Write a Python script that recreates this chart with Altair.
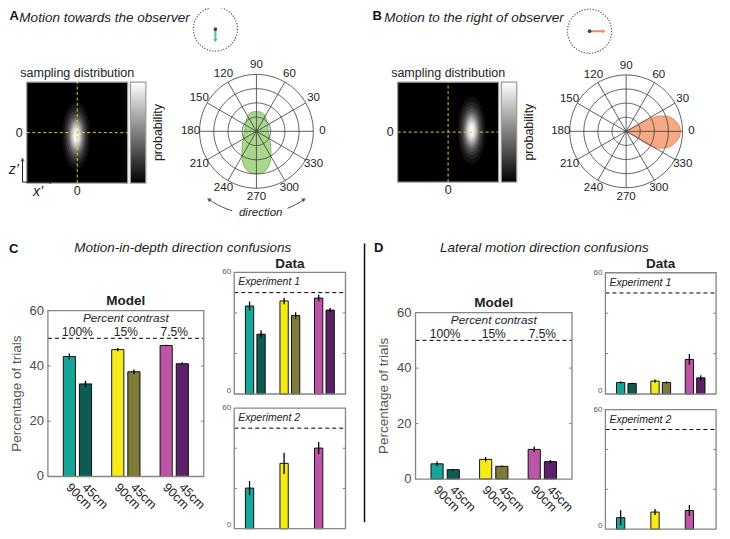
import altair as alt
import pandas as pd
import numpy as np

# ----------------------------- data -----------------------------
distances = ["90cm", "45cm", "90cm", "45cm", "90cm", "45cm"]
contrast_levels = ["100%", "15%", "7.5%"]
bar_slots = [1, 2, 4, 5, 7, 8]
contrast_slots = [1.5, 4.5, 7.5]
exp2_slots = [1, 4, 7]
bar_colors = ["#17a597", "#0e5b52", "#f6ea1d", "#7d7b37", "#bc55a5", "#5c2167"]
exp2_colors = ["#17a597", "#f6ea1d", "#bc55a5"]
chance_level = [50]

depth_model = [43.4, 33.5, 45.9, 37.9, 47.4, 40.8]
depth_model_err = [1.1, 1.1, 0.6, 0.8, 0.3, 0.5]
depth_exp1 = [43.4, 29.5, 45.9, 38.7, 47.3, 41.4]
depth_exp1_err = [2.2, 1.9, 1.6, 1.6, 1.6, 1.0]
depth_exp2 = [20.2, 32.5, 40.1]
depth_exp2_err = [3.5, 5.3, 3.0]

lateral_model = [5.5, 3.4, 7.1, 4.6, 10.7, 6.3]
lateral_model_err = [0.8, 0.3, 0.8, 0.3, 1.0, 0.6]
lateral_exp1 = [5.7, 5.2, 6.4, 5.7, 17.1, 8.0]
lateral_exp1_err = [0.5, 0.4, 0.8, 0.5, 2.7, 1.3]
lateral_exp2 = [5.8, 8.6, 9.4]
lateral_exp2_err = [3.7, 1.5, 2.7]

model_ticks = [0, 20, 40, 60]
data_ticks = [0, 60]
inner_ticks = [20, 40]

polar_labels = [0, 30, 60, 90, 120, 150, 180, 210, 240, 270, 300, 330]
polar_rings = [0.25, 0.5, 0.75, 1.0]

# estimated direction distributions (units of the outer polar ring)
towards_y = [0.35, 0.34, 0.32, 0.29, 0.25, 0.18, 0.10, 0.0, -0.12, -0.25, -0.38,
             -0.50, -0.60, -0.66, -0.70, -0.73, -0.745]
towards_half = [0.0, 0.07, 0.11, 0.14, 0.16, 0.18, 0.20, 0.21, 0.23, 0.25, 0.255,
                0.25, 0.22, 0.185, 0.15, 0.09, 0.0]
right_x = [0.0, 0.1, 0.2, 0.3, 0.4, 0.5, 0.6, 0.7, 0.8, 0.87, 0.92, 0.95, 0.965]
right_up = [0.0, 0.05, 0.10, 0.16, 0.21, 0.25, 0.27, 0.27, 0.24, 0.19, 0.13, 0.08, 0.0]
right_down = [0.0, -0.05, -0.11, -0.18, -0.24, -0.28, -0.30, -0.29, -0.26, -0.20, -0.14, -0.08, 0.0]

# sampling-distribution peak (x', z') in heat-map units
blob_towards = [-0.02, -0.06]
blob_right = [0.465, 0.035]

# ----------------------------- layout / style -----------------------------
S = 0.989
W, H = 714, 523
FONT = "Liberation Sans"
INK = "#222222"


def X(p):
    return (p - 8.0) * S


def Y(p):
    return (p - 8.0) * S


def qx(f, sc):
    return alt.X(f"{f}:Q", scale=sc, axis=None)


def qy(f, sc):
    return alt.Y(f"{f}:Q", scale=sc, axis=None)


def ts(size, color=INK, **kw):
    d = dict(font=FONT, fontSize=size, color=color)
    d.update(kw)
    return d


PXS = alt.Scale(domain=[0, W], range=[0, W], nice=False, zero=False)
PYS = alt.Scale(domain=[0, H], range=[0, H], nice=False, zero=False)


def ptext(rows, **style):
    df = pd.DataFrame({"x": [X(r[0]) for r in rows], "y": [Y(r[1]) for r in rows],
                       "t": [r[2] for r in rows]})
    return alt.Chart(df).mark_text(**style).encode(x=qx("x", PXS), y=qy("y", PYS), text="t:N")


XMIN, XMAX = -0.33, 9.33


def bar_panel(vals, errs, slots, cols, box, bar_px, ticks, tick_size, tick_color,
              model=False, exp_label=None, ytitle_off=-31):
    left, right, top, bottom = box
    xs = alt.Scale(domain=[XMIN, XMAX], range=[X(left), X(right)], nice=False, zero=False)
    ys = alt.Scale(domain=[0, 60], range=[Y(bottom), Y(top)], nice=False, zero=False)
    df = pd.DataFrame({"slot": slots, "val": vals,
                       "lo": [v - e for v, e in zip(vals, errs)],
                       "hi": [v + e for v, e in zip(vals, errs)],
                       "col": cols, "base": [0] * len(vals)})
    L = []
    L.append(alt.Chart(df).mark_bar(size=bar_px * S, stroke="black", strokeWidth=0.9, orient="vertical")
             .encode(x=qx("slot", xs), y=qy("val", ys), y2=alt.Y2("base"),
                     color=alt.Color("col:N", scale=None)))
    L.append(alt.Chart(df).mark_rule(color="black", strokeWidth=1.3)
             .encode(x=qx("slot", xs), y=qy("lo", ys), y2=alt.Y2("hi")))
    chance = pd.DataFrame({"x0": [XMIN], "x1": [XMAX], "y": chance_level})
    L.append(alt.Chart(chance).mark_rule(color="black", strokeDash=[4, 3], strokeWidth=1)
             .encode(x=qx("x0", xs), x2=alt.X2("x1"), y=qy("y", ys)))
    unit = (right - left) / (XMAX - XMIN)
    d = 3.0 / unit
    tk = pd.DataFrame({"x0": [XMIN] * 2 + [XMAX - d] * 2, "x1": [XMIN + d] * 2 + [XMAX] * 2,
                       "y": inner_ticks * 2})
    L.append(alt.Chart(tk).mark_rule(color="#808080", strokeWidth=1)
             .encode(x=qx("x0", xs), x2=alt.X2("x1"), y=qy("y", ys)))
    frame = pd.DataFrame({"x0": [XMIN], "x1": [XMAX], "y0": [0], "y1": [60]})
    L.append(alt.Chart(frame).mark_rect(fillOpacity=0, stroke="#858585", strokeWidth=1.3)
             .encode(x=qx("x0", xs), x2=alt.X2("x1"), y=qy("y0", ys), y2=alt.Y2("y1")))
    if model:
        tl = pd.DataFrame({"x": [XMIN] * len(ticks), "y": ticks, "t": [str(t) for t in ticks]})
        L.append(alt.Chart(tl).mark_text(align="right", baseline="middle", dx=-4,
                                         **ts(tick_size, tick_color))
                 .encode(x=qx("x", xs), y=qy("y", ys), text="t:N"))
    else:
        hi_t = pd.DataFrame({"x": [XMIN], "y": [ticks[-1]], "t": [str(ticks[-1])]})
        L.append(alt.Chart(hi_t).mark_text(align="right", baseline="middle", dx=-3,
                                           **ts(tick_size, tick_color))
                 .encode(x=qx("x", xs), y=qy("y", ys), text="t:N"))
        lo_t = pd.DataFrame({"x": [XMIN], "y": [ticks[0]], "t": [str(ticks[0])]})
        L.append(alt.Chart(lo_t).mark_text(align="right", baseline="bottom", dx=-3, dy=0.5,
                                           **ts(tick_size, tick_color))
                 .encode(x=qx("x", xs), y=qy("y", ys), text="t:N"))
    mid = (XMIN + XMAX) / 2
    if model:
        xl = pd.DataFrame({"x": slots, "y": [0] * len(slots), "t": distances})
        L.append(alt.Chart(xl).mark_text(angle=45, align="left", baseline="middle", dx=5.5, dy=7,
                                         **ts(12.5))
                 .encode(x=qx("x", xs), y=qy("y", ys), text="t:N"))
        pc = pd.DataFrame({"x": [mid], "y": [57.3], "t": ["Percent contrast"]})
        L.append(alt.Chart(pc).mark_text(align="center", baseline="middle",
                                         **ts(11.8, fontStyle="italic"))
                 .encode(x=qx("x", xs), y=qy("y", ys), text="t:N"))
        cl = pd.DataFrame({"x": contrast_slots, "y": [52.4] * 3, "t": contrast_levels})
        L.append(alt.Chart(cl).mark_text(align="center", baseline="middle", **ts(12))
                 .encode(x=qx("x", xs), y=qy("y", ys), text="t:N"))
        tt = pd.DataFrame({"x": [mid], "y": [60], "t": ["Model"]})
        L.append(alt.Chart(tt).mark_text(align="center", baseline="middle", dy=-10,
                                         **ts(13.5, fontWeight="bold"))
                 .encode(x=qx("x", xs), y=qy("y", ys), text="t:N"))
        yt = pd.DataFrame({"x": [XMIN], "y": [30], "t": ["Percentage of trials"]})
        L.append(alt.Chart(yt).mark_text(angle=270, align="center", baseline="middle", dy=ytitle_off,
                                         **ts(13.5, "#555555"))
                 .encode(x=qx("x", xs), y=qy("y", ys), text="t:N"))
    if exp_label:
        el = pd.DataFrame({"x": [XMIN], "y": [60], "t": [exp_label]})
        L.append(alt.Chart(el).mark_text(align="left", baseline="middle", dx=4, dy=10,
                                         **ts(10.5, fontStyle="italic"))
                 .encode(x=qx("x", xs), y=qy("y", ys), text="t:N"))
    return alt.layer(*L)


ELLIPSE = ("M0,-1C0.232,-1,0.42,-0.552,0.42,0C0.42,0.552,0.232,1,0,1"
           "C-0.232,1,-0.42,0.552,-0.42,0C-0.42,-0.552,-0.232,-1,0,-1Z")
BLOB_SCALES = [1.0, 0.86, 0.74, 0.64, 0.55, 0.47, 0.40, 0.34, 0.28, 0.23, 0.18, 0.13]
BLOB_ALPHA = [0.06, 0.08, 0.10, 0.13, 0.16, 0.20, 0.24, 0.28, 0.32, 0.36, 0.40, 0.45]


def heat_panel(box, blob):
    left, right, top, bottom = box
    xs = alt.Scale(domain=[-1, 1], range=[X(left), X(right)], nice=False, zero=False)
    ys = alt.Scale(domain=[-1, 1], range=[Y(bottom), Y(top)], nice=False, zero=False)
    L = []
    bg = pd.DataFrame({"x0": [-1], "x1": [1], "y0": [-1], "y1": [1]})
    L.append(alt.Chart(bg).mark_rect(fill="black", stroke="#9a9a9a", strokeWidth=1.2)
             .encode(x=qx("x0", xs), x2=alt.X2("x1"), y=qy("y0", ys), y2=alt.Y2("y1")))
    bl = pd.DataFrame({"x": [blob[0]] * len(BLOB_SCALES), "y": [blob[1]] * len(BLOB_SCALES),
                       "sz": [(2 * 34 * s * S) ** 2 for s in BLOB_SCALES], "op": BLOB_ALPHA})
    L.append(alt.Chart(bl).mark_point(shape=ELLIPSE, filled=True, fill="white", strokeOpacity=0)
             .encode(x=qx("x", xs), y=qy("y", ys), size=alt.Size("sz:Q", scale=None),
                     opacity=alt.Opacity("op:Q", scale=None)))
    vx = pd.DataFrame({"x": [0], "y0": [-1], "y1": [1]})
    L.append(alt.Chart(vx).mark_rule(color="#f2c32c", strokeDash=[3, 2.5], strokeWidth=1)
             .encode(x=qx("x", xs), y=qy("y0", ys), y2=alt.Y2("y1")))
    hz = pd.DataFrame({"y": [0], "x0": [-1], "x1": [1]})
    L.append(alt.Chart(hz).mark_rule(color="#f2c32c", strokeDash=[3, 2.5], strokeWidth=1)
             .encode(y=qy("y", ys), x=qx("x0", xs), x2=alt.X2("x1")))
    cb = pd.DataFrame({"x0": [1.055], "x1": [1.36], "y0": [-1], "y1": [1]})
    grad = alt.LinearGradient(gradient="linear",
                              stops=[alt.GradientStop(color="white", offset=0),
                                     alt.GradientStop(color="#8c8c8c", offset=0.45),
                                     alt.GradientStop(color="black", offset=1)],
                              x1=0, x2=0, y1=0, y2=1)
    L.append(alt.Chart(cb).mark_rect(fill=grad, stroke="#9a9a9a", strokeWidth=1.2)
             .encode(x=qx("x0", xs), x2=alt.X2("x1"), y=qy("y0", ys), y2=alt.Y2("y1")))
    tx = pd.DataFrame({"x": [0], "y": [1], "t": ["sampling distribution"]})
    L.append(alt.Chart(tx).mark_text(align="center", baseline="middle", dy=-9, **ts(12.5))
             .encode(x=qx("x", xs), y=qy("y", ys), text="t:N"))
    pr = pd.DataFrame({"x": [1.6], "y": [0], "t": ["probability"]})
    L.append(alt.Chart(pr).mark_text(angle=270, align="center", baseline="middle", **ts(12.5))
             .encode(x=qx("x", xs), y=qy("y", ys), text="t:N"))
    z0 = pd.DataFrame({"x": [-1], "y": [0], "t": ["0"]})
    L.append(alt.Chart(z0).mark_text(align="right", baseline="middle", dx=-4, **ts(12.5))
             .encode(x=qx("x", xs), y=qy("y", ys), text="t:N"))
    x0 = pd.DataFrame({"x": [0], "y": [-1], "t": ["0"]})
    L.append(alt.Chart(x0).mark_text(align="center", baseline="middle", dy=8, **ts(12.5))
             .encode(x=qx("x", xs), y=qy("y", ys), text="t:N"))
    return alt.layer(*L)


def polar_panel(cx, cy, R, lobe_df, lobe_kind, fill, stroke, direction=False):
    xs = alt.Scale(domain=[-1, 1], range=[X(cx - R), X(cx + R)], nice=False, zero=False)
    ys = alt.Scale(domain=[-1, 1], range=[Y(cy + R), Y(cy - R)], nice=False, zero=False)
    L = []
    if lobe_kind == "horizontal":
        L.append(alt.Chart(lobe_df).mark_area(orient="horizontal", interpolate="monotone", fill=fill,
                                              stroke=stroke, strokeWidth=1)
                 .encode(y=qy("y", ys), x=qx("xl", xs), x2=alt.X2("xr")))
    else:
        L.append(alt.Chart(lobe_df).mark_area(orient="vertical", interpolate="monotone", fill=fill,
                                              stroke=stroke, strokeWidth=1)
                 .encode(x=qx("x", xs), y=qy("yl", ys), y2=alt.Y2("yu")))
    rows = []
    for r in polar_rings:
        for t in range(0, 361, 3):
            a = np.deg2rad(t)
            rows.append({"ring": r, "t": t, "x": r * np.cos(a), "y": r * np.sin(a)})
    rings = pd.DataFrame(rows)
    L.append(alt.Chart(rings).mark_line(color="#444444", strokeWidth=0.85)
             .encode(x=qx("x", xs), y=qy("y", ys), detail="ring:N", order="t:Q"))
    ang = np.deg2rad(polar_labels)
    sp = pd.DataFrame({"x0": [0.0] * len(ang), "y0": [0.0] * len(ang),
                       "x1": np.cos(ang), "y1": np.sin(ang)})
    L.append(alt.Chart(sp).mark_rule(color="#444444", strokeWidth=0.85)
             .encode(x=qx("x0", xs), y=qy("y0", ys), x2=alt.X2("x1"), y2=alt.Y2("y1")))
    lb = pd.DataFrame({"x": 1.16 * np.cos(ang), "y": 1.16 * np.sin(ang),
                       "t": [str(a) for a in polar_labels]})
    L.append(alt.Chart(lb).mark_text(align="center", baseline="middle", **ts(11.5))
             .encode(x=qx("x", xs), y=qy("y", ys), text="t:N"))
    if direction:
        rr = 84.0 / R
        seg = []
        for name, (a0, a1) in {"l": (235, 253), "r": (292, 305)}.items():
            for t in range(a0, a1 + 1):
                a = np.deg2rad(t)
                seg.append({"s": name, "t": t, "x": rr * np.cos(a), "y": rr * np.sin(a)})
        L.append(alt.Chart(pd.DataFrame(seg)).mark_line(color="#333333", strokeWidth=0.9)
                 .encode(x=qx("x", xs), y=qy("y", ys), detail="s:N", order="t:Q"))
        hd = pd.DataFrame({"x": [rr * np.cos(np.deg2rad(235)), rr * np.cos(np.deg2rad(305))],
                           "y": [rr * np.sin(np.deg2rad(235)), rr * np.sin(np.deg2rad(305))],
                           "a": [305, 55]})
        L.append(alt.Chart(hd).mark_point(shape="triangle-up", filled=True, color="#333333", size=22)
                 .encode(x=qx("x", xs), y=qy("y", ys), angle=alt.Angle("a:Q", scale=None)))
        dt = pd.DataFrame({"x": [0.075], "y": [-1.43], "t": ["direction"]})
        L.append(alt.Chart(dt).mark_text(align="center", baseline="middle",
                                         **ts(11.5, fontStyle="italic"))
                 .encode(x=qx("x", xs), y=qy("y", ys), text="t:N"))
    return alt.layer(*L)


# ----------------------------- panels -----------------------------
towards_df = pd.DataFrame({"y": towards_y, "xl": [-h for h in towards_half], "xr": towards_half})
right_df = pd.DataFrame({"x": right_x, "yl": right_down, "yu": right_up})

heatA = heat_panel((27, 129, 83, 185), blob_towards)
heatB = heat_panel((402, 504, 83, 184), blob_right)
polarA = polar_panel(259.2, 132.7, 57.5, towards_df, "horizontal", "#a8d68d", "#7fbd61", direction=True)
polarB = polar_panel(633.0, 132.7, 57.0, right_df, "vertical", "#f5a985", "#e9885f")

c_model = bar_panel(depth_model, depth_model_err, bar_slots, bar_colors, (43.3, 211, 314, 481.7), 12.3,
                    model_ticks, 13, "#4a4a4a", model=True, ytitle_off=-31)
c_exp1 = bar_panel(depth_exp1, depth_exp1_err, bar_slots, bar_colors, (231.7, 354.3, 275.3, 398.3), 8.4,
                   data_ticks, 8, "#555555", exp_label="Experiment 1")
c_exp2 = bar_panel(depth_exp2, depth_exp2_err, exp2_slots, exp2_colors, (231.7, 354.3, 412.5, 534.5), 8.4,
                   data_ticks, 8, "#555555", exp_label="Experiment 2")
d_model = bar_panel(lateral_model, lateral_model_err, bar_slots, bar_colors, (415, 583.3, 316, 484.3), 12.3,
                    model_ticks, 13, "#4a4a4a", model=True, ytitle_off=-32)
d_exp1 = bar_panel(lateral_exp1, lateral_exp1_err, bar_slots, bar_colors, (607, 729, 275.7, 398.3), 8.4,
                   data_ticks, 8, "#555555", exp_label="Experiment 1")
d_exp2 = bar_panel(lateral_exp2, lateral_exp2_err, exp2_slots, exp2_colors, (607, 729, 414, 535.0), 8.4,
                   data_ticks, 8, "#555555", exp_label="Experiment 2")

# ----------------------------- decorations (page layout) -----------------------------
letters = ptext([(9.5, 16.5, "A"), (376.5, 16, "B"), (9, 252, "C"), (378, 251, "D")],
                align="left", baseline="middle", **ts(13, "#111111", fontWeight="bold"))
titles_l = ptext([(19.5, 18, "Motion towards the observer"), (388.5, 18.5, "Motion to the right of observer")],
                 align="left", baseline="middle", **ts(13.5, fontStyle="italic"))
titles_c = ptext([(184.7, 251, "Motion-in-depth direction confusions"),
                  (550.3, 251, "Lateral motion direction confusions")],
                 align="center", baseline="middle", **ts(13.5, fontStyle="italic"))
data_titles = ptext([(293, 267, "Data"), (668, 267, "Data")], align="center", baseline="middle",
                    **ts(13.5, fontWeight="bold"))
axis_names = ptext([(14, 172, "z\u2019"), (38.5, 194, "x\u2019")], align="center", baseline="middle",
                   **ts(14, fontStyle="italic"))

inset_c = pd.DataFrame({"x": [X(217.7), X(596.0)], "y": [Y(29.3), Y(31.5)]})
inset_circles = alt.Chart(inset_c).mark_point(shape="circle", filled=False, stroke="#111111", strokeWidth=1.2,
                                              strokeDash=[1.2, 1.6], size=(2 * 22.3 * S) ** 2) \
    .encode(x=qx("x", PXS), y=qy("y", PYS))
inset_arrows = pd.DataFrame({"x0": [X(217.7), X(596.3)], "y0": [Y(29.5), Y(31.5)],
                             "x1": [X(217.7), X(608.5)], "y1": [Y(40.0), Y(31.5)],
                             "c": ["#5dbf8e", "#ee8a5c"]})
inset_lines = alt.Chart(inset_arrows).mark_rule(strokeWidth=2) \
    .encode(x=qx("x0", PXS), y=qy("y0", PYS), x2=alt.X2("x1"), y2=alt.Y2("y1"),
            color=alt.Color("c:N", scale=None))
inset_heads_df = pd.DataFrame({"x": [X(217.7), X(610.5)], "y": [Y(41.2), Y(31.5)],
                               "s": ["triangle-down", "triangle-right"], "c": ["#5dbf8e", "#ee8a5c"]})
inset_heads = alt.Chart(inset_heads_df).mark_point(filled=True, size=16, opacity=1) \
    .encode(x=qx("x", PXS), y=qy("y", PYS), shape=alt.Shape("s:N", scale=None),
            color=alt.Color("c:N", scale=None))
inset_dots = alt.Chart(inset_c).mark_point(shape="circle", filled=True, color="black", size=14) \
    .encode(x=qx("x", PXS), y=qy("y", PYS))

ax_lines_df = pd.DataFrame({"x0": [X(22.7), X(22.7)], "y0": [Y(184), Y(184)],
                            "x1": [X(22.7), X(50)], "y1": [Y(162), Y(184)]})
ax_lines = alt.Chart(ax_lines_df).mark_rule(color="#222222", strokeWidth=1) \
    .encode(x=qx("x0", PXS), y=qy("y0", PYS), x2=alt.X2("x1"), y2=alt.Y2("y1"))
ax_heads_df = pd.DataFrame({"x": [X(22.7), X(51.5)], "y": [Y(161), Y(184)], "a": [0, 90]})
ax_heads = alt.Chart(ax_heads_df).mark_point(shape="triangle-up", filled=True, color="#222222", size=18) \
    .encode(x=qx("x", PXS), y=qy("y", PYS), angle=alt.Angle("a:Q", scale=None))

divider_df = pd.DataFrame({"x": [X(368.5)], "y0": [Y(246)], "y1": [Y(528)]})
divider = alt.Chart(divider_df).mark_rule(color="#111111", strokeWidth=1.5) \
    .encode(x=qx("x", PXS), y=qy("y0", PYS), y2=alt.Y2("y1"))

chart = alt.layer(
    heatA, heatB, polarA, polarB,
    c_model, c_exp1, c_exp2, d_model, d_exp1, d_exp2,
    letters, titles_l, titles_c, data_titles, axis_names,
    inset_circles, inset_lines, inset_heads, inset_dots,
    ax_lines, ax_heads, divider,
).resolve_scale(
    x="independent", y="independent"
).properties(
    width=W, height=H, padding=0, autosize=alt.AutoSizeParams(type="none")
).configure_view(stroke="transparent")

chart.save("out.html", embed_options={"renderer": "svg", "actions": False})
